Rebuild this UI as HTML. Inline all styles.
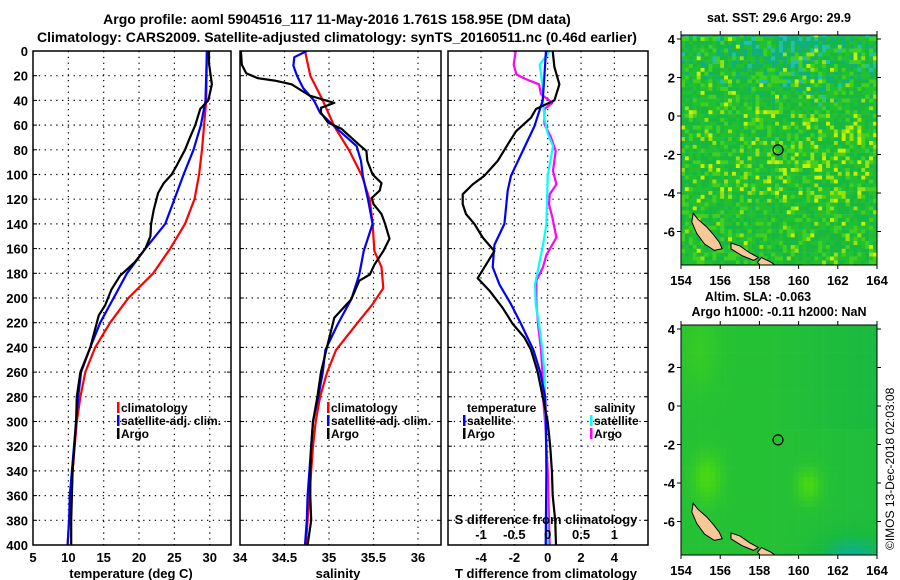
<!DOCTYPE html>
<html><head><meta charset="utf-8">
<style>
html,body{margin:0;padding:0;background:#fff;}
svg{display:block;font-family:"Liberation Sans",Arial,sans-serif;font-weight:bold;}
</style></head>
<body>
<svg id="fig" width="900" height="580" viewBox="0 0 900 580" xmlns="http://www.w3.org/2000/svg">
<rect width="900" height="580" fill="#fff"/>
<text x="337" y="24" font-size="14" text-anchor="middle">Argo profile: aoml 5904516_117 11-May-2016 1.761S 158.95E (DM data)</text>
<text x="337" y="42" font-size="14" text-anchor="middle">Climatology: CARS2009. Satellite-adjusted climatology: synTS_20160511.nc (0.46d earlier)</text>
<g id="p1"></g>
<g id="p2"></g>
<g id="p3"></g>
<g id="m1"></g>
<g id="m2"></g>
<text x="779" y="22" font-size="12.5" text-anchor="middle">sat. SST: 29.6 Argo: 29.9</text>
<text x="758" y="301" font-size="12.5" text-anchor="middle">Altim. SLA: -0.063</text>
<text x="779" y="316" font-size="12.5" text-anchor="middle">Argo h1000: -0.11 h2000: NaN</text>
<text transform="translate(894,550) rotate(-90)" font-size="12" font-weight="normal">©IMOS 13-Dec-2018 02:03:08</text>
</svg>
<script>
// ---- Temperature panel data ----
const tClimDepth = [0,40,80,100,120,140,160,180,200,220,240,260,280,300,320,340,360,380,400];
const tClimVal   = [29.6,29.5,28.9,28.5,27.85,26.5,24.4,22.0,18.5,15.9,13.8,12.4,11.7,11.2,10.9,10.6,10.3,10.1,9.9];
const tSatDepth  = [0,40,60,80,100,120,140,160,180,200,220,240,260,280,300,320,340,360,380,400];
const tSatVal    = [29.6,29.4,28.75,27.7,26.3,25.0,23.7,20.9,18.3,16.4,14.5,13.1,11.8,11.4,11.1,10.8,10.5,10.2,10.1,9.9];
const tArgoDepth = [0,10,27,40,47,60,70,80,93,100,107,115,128,140,150,160,171,182,193,206,214,225,240,260,280,300,340,360,380,400];
const tArgoVal   = [29.9,29.9,30.3,29.8,28.65,27.95,27.2,26.5,25.3,24.6,23.5,22.7,22.1,21.7,21.6,20.9,19.4,17.3,16.1,15.2,14.3,13.8,13.1,11.7,11.2,11.1,10.6,10.5,10.4,10.4];
const tTicks = [5,10,15,20,25,30];
const depthTicks = [0,20,40,60,80,100,120,140,160,180,200,220,240,260,280,300,320,340,360,380,400];
// ---- Salinity panel data ----
const sClimDepth = [0,20,40,61,81,101,121,140,162,175,192,205,221,242,260,280,300,320,340,360,380,400];
const sClimVal   = [34.73,34.79,34.93,35.06,35.23,35.37,35.46,35.49,35.51,35.59,35.61,35.49,35.31,35.08,34.98,34.90,34.85,34.82,34.80,34.78,34.76,34.74];
const sSatDepth  = [0,5,12,20,30,40,50,61,77,89,101,121,140,162,181,201,221,242,260,280,300,320,340,360,380,400];
const sSatVal    = [34.75,34.61,34.60,34.64,34.71,34.83,34.90,35.06,35.31,35.36,35.38,35.44,35.49,35.39,35.34,35.25,35.10,34.96,34.93,34.88,34.82,34.80,34.78,34.76,34.75,34.73];
const sArgoDepth = [0,11,18,22,24,27,32,36,42,46,50,58,63,76,81,89,100,107,113,119,124,132,140,152,162,173,181,186,201,216,242,260,280,300,320,340,360,380,400];
const sArgoVal   = [34.01,34.02,34.07,34.20,34.39,34.58,34.69,34.78,35.06,34.91,34.91,34.99,35.14,35.34,35.42,35.43,35.49,35.59,35.57,35.48,35.50,35.59,35.63,35.68,35.61,35.51,35.46,35.34,35.25,35.06,34.97,34.91,34.87,34.82,34.80,34.79,34.79,34.80,34.76];
const sTicks = [34,34.5,35,35.5,36];
const sTickLabels = ["34","34.5","35","35.5","36"];
// ---- Difference panel data ----
const dtArgoDepth = [0,13,27,40,47,54,65,78,89,101,108,116,124,132,140,151,162,173,184,194,208,221,232,242,260,280,300,320,340,360,380,400];
const dtArgoVal   = [0.3,0.4,0.7,0.4,-0.7,-1.0,-1.9,-2.5,-3.0,-3.8,-4.5,-5.1,-5.1,-4.9,-4.4,-3.9,-3.2,-3.7,-4.2,-3.5,-2.7,-2.1,-1.4,-1.0,-0.6,-0.3,0.0,0.15,0.25,0.3,0.45,0.5];
const dtSatDepth  = [0,20,40,61,81,101,113,140,157,175,189,205,221,242,260,280,300,340,400];
const dtSatVal    = [-0.1,-0.2,-0.3,-0.8,-1.5,-2.2,-2.4,-2.6,-3.2,-3.3,-2.9,-2.2,-1.6,-0.86,-0.45,-0.15,-0.1,-0.08,-0.12];
const dsSatDepth  = [0,11,27,40,54,67,77,89,101,121,140,157,173,189,205,221,242,260,300,340,400];
const dsSatVal    = [0.03,-0.12,-0.08,-0.07,-0.05,0,0.08,0.04,0,-0.01,-0.02,-0.07,-0.13,-0.19,-0.18,-0.13,-0.08,-0.05,-0.03,-0.02,0.0];
const dsArgoDepth = [0,11,19,23,27,35,42,47,59,70,81,97,108,116,124,135,151,165,175,186,205,224,242,260,280,300,320,340,360,380,400];
const dsArgoVal   = [-0.48,-0.51,-0.47,-0.32,-0.13,-0.10,0.07,-0.05,-0.05,0.05,0.12,0.08,0.13,0.03,0.02,0.07,0.13,-0.02,-0.07,-0.17,-0.17,-0.14,-0.10,-0.08,-0.07,-0.04,-0.02,0.0,0.01,0.02,0.03];
const dtTicks = [-4,-2,0,2,4];
const dsTicks = [-1,-0.5,0,0.5,1];
const dsTickLabels = ["-1","-0.5","0","0.5","1"];
// ---- Map data ----
const lonTicks = [154,156,158,160,162,164];
const latTicks = [4,2,0,-2,-4,-6];
const floatLon = [158.95];
const floatLat = [-1.761];

const NS = "http://www.w3.org/2000/svg";
function mk(parent, tag, attrs){const e=document.createElementNS(NS,tag);for(const k in attrs)e.setAttribute(k,attrs[k]);parent.appendChild(e);return e;}
const yD = d => 51 + d*1.235;
const PT = {x0:33,x1:231}, PS={x0:240,x1:441}, PD={x0:448,x1:648};
const Y0=51, Y1=545;

function frame(g, P, name){
  const r = mk(g,'rect',{x:P.x0,y:Y0,width:P.x1-P.x0,height:Y1-Y0,fill:'none',stroke:'#000','stroke-width':1.5});
  
  
}
function hgrid(g,P){
  depthTicks.forEach(d=>{
    if(d>0&&d<400){const l=mk(g,'line',{x1:P.x0,x2:P.x1,y1:yD(d),y2:yD(d),stroke:'#000','stroke-width':1.2,'stroke-dasharray':'1.3,4.5'});
    
    }
    const t1=mk(g,'line',{x1:P.x0,x2:P.x0+4,y1:yD(d),y2:yD(d),stroke:'#000'});
    
    
    const t2=mk(g,'line',{x1:P.x1-4,x2:P.x1,y1:yD(d),y2:yD(d),stroke:'#000'});
    
    
  });
}
function vgrid(g,P,vals,xf){
  vals.forEach(v=>{const x=xf(v); if(x>P.x0+1&&x<P.x1-1){
    const l=mk(g,'line',{x1:x,x2:x,y1:Y0,y2:Y1,stroke:'#000','stroke-width':1.2,'stroke-dasharray':'1.3,4.5'});
    
    }});
}
function line(g,depths,vals,xf,color,name,clip){
  const pts = depths.map((d,i)=>xf(vals[i]).toFixed(1)+','+yD(d).toFixed(1)).join(' ');
  const p = mk(g,'polyline',{points:pts,fill:'none',stroke:color,'stroke-width':2.2,'stroke-linejoin':'round','clip-path':'url(#'+clip+')'});
  
  
}
function txt(g,x,y,s,opts,name){
  const t=mk(g,'text',Object.assign({x:x,y:y,'font-size':13},opts||{}));t.textContent=s;
  
  
  return t;
}
function legend(g,x,y,color,label,name){
  const b=mk(g,'rect',{x:x,y:y-10,width:2.5,height:11,fill:color});
  
  
  txt(g,x+4,y,label,{'font-size':12},name+'-label');
}
const defs = mk(document.getElementById('fig'),'defs',{});
[['c1',PT],['c2',PS],['c3',PD]].forEach(([id,P])=>{const c=mk(defs,'clipPath',{id:id});mk(c,'rect',{x:P.x0,y:Y0,width:P.x1-P.x0,height:Y1-Y0});});

// Panel 1
(function(){
  const g=document.getElementById('p1'); const xT=t=>33+(t-5)*7.07;
  hgrid(g,PT); vgrid(g,PT,tTicks,xT);
  line(g,tClimDepth,tClimVal,xT,'#f00','temperature-climatology-line','c1');
  line(g,tSatDepth,tSatVal,xT,'#00f','temperature-satellite-line','c1');
  line(g,tArgoDepth,tArgoVal,xT,'#000','temperature-argo-line','c1');
  frame(g,PT,'temperature-panel');
  depthTicks.forEach(d=>txt(g,28,yD(d)+5,String(d),{'text-anchor':'end'},'depth-tick-label'));
  tTicks.forEach(t=>txt(g,xT(t),562,String(t),{'text-anchor':'middle'},'temperature-tick-label'));
  txt(g,131,578,'temperature (deg C)',{'text-anchor':'middle'},'temperature-axis-title');
  legend(g,117,412,'#f00','climatology','legend-climatology');
  legend(g,117,425,'#00f','satellite-adj. clim.','legend-satellite');
  legend(g,117,438,'#000','Argo','legend-argo');
})();
// Panel 2
(function(){
  const g=document.getElementById('p2'); const xS=s=>240+(s-34)*89;
  hgrid(g,PS); vgrid(g,PS,sTicks,xS);
  line(g,sClimDepth,sClimVal,xS,'#f00','salinity-climatology-line','c2');
  line(g,sSatDepth,sSatVal,xS,'#00f','salinity-satellite-line','c2');
  line(g,sArgoDepth,sArgoVal,xS,'#000','salinity-argo-line','c2');
  frame(g,PS,'salinity-panel');
  sTicks.forEach((s,i)=>txt(g,xS(s),562,sTickLabels[i],{'text-anchor':'middle'},'salinity-tick-label'));
  txt(g,338,578,'salinity',{'text-anchor':'middle'},'salinity-axis-title');
  legend(g,327,412,'#f00','climatology','legend-climatology');
  legend(g,327,425,'#00f','satellite-adj. clim.','legend-satellite');
  legend(g,327,438,'#000','Argo','legend-argo');
})();
// Panel 3
(function(){
  const g=document.getElementById('p3'); const xT=t=>547.7+t*16.67; const xS=s=>547.7+s*66.67;
  hgrid(g,PD); vgrid(g,PD,dtTicks,xT);
  line(g,dsArgoDepth,dsArgoVal,xS,'#f0f','salinity-diff-argo-line','c3');
  line(g,dsSatDepth,dsSatVal,xS,'#0ff','salinity-diff-satellite-line','c3');
  line(g,dtSatDepth,dtSatVal,xT,'#00f','temperature-diff-satellite-line','c3');
  line(g,dtArgoDepth,dtArgoVal,xT,'#000','temperature-diff-argo-line','c3');
  frame(g,PD,'difference-panel');
  dtTicks.forEach(t=>txt(g,xT(t),562,String(t),{'text-anchor':'middle'},'t-diff-tick-label'));
  txt(g,546,578,'T difference from climatology',{'text-anchor':'middle'},'t-diff-axis-title');
  dsTicks.forEach((s,i)=>txt(g,xS(s),539,dsTickLabels[i],{'text-anchor':'middle'},'s-diff-tick-label'));
  txt(g,546,524,'S difference from climatology',{'text-anchor':'middle'},'s-diff-axis-title');
  txt(g,467,412,'temperature',{'font-size':12},'legend-temperature-heading');
  legend(g,463,425,'#00f','satellite','legend-t-satellite');
  legend(g,463,438,'#000','Argo','legend-t-argo');
  txt(g,594,412,'salinity',{'font-size':12},'legend-salinity-heading');
  legend(g,590,425,'#0ff','satellite','legend-s-satellite');
  legend(g,590,438,'#f0f','Argo','legend-s-argo');
})();

// Maps
function hash(i,j,s){let h=(i*374761393+j*668265263+s*2147483647)|0;h=(h^(h>>>13))*1274126177|0;h=h^(h>>>16);return ((h>>>0)%10000)/10000;}
const lands=[
 [[154.62,-5.05],[154.85,-5.35],[155.3,-5.75],[155.65,-6.15],[155.95,-6.55],[156.1,-6.9],[155.7,-6.98],[155.2,-6.65],[154.8,-6.1],[154.55,-5.5]],
 [[156.55,-6.6],[157.0,-6.75],[157.5,-7.1],[157.95,-7.35],[157.7,-7.5],[157.1,-7.25],[156.55,-6.9]],
 [[158.1,-7.35],[158.6,-7.6],[159.0,-7.9],[158.2,-7.9],[157.9,-7.6]],
 [[156.6,-7.8],[156.9,-7.8],[156.8,-7.95],[156.6,-7.95]]
];
function drawMap(id,top,bot,ax){
  const g=document.getElementById(id);
  const X0=681,X1=877;
  const lx=l=>X0+(l-154)*19.6;
  const ly=a=>top+4+(4-a)*19.25;
  const latMin=4-(bot-top-4)/19.25;
  const cid='clip'+id; const c=mk(defs,'clipPath',{id:cid}); mk(c,'rect',{x:X0,y:top,width:X1-X0,height:bot-top});
  const cells=mk(g,'g',{'clip-path':'url(#'+cid+')'});
  
  
  if(id==='m1'){
    const st=0.2;
    for(let lo=154;lo<164;lo+=st){for(let la=4.3;la>latMin-0.2;la-=st){
      const i=Math.round(lo/st),j=Math.round(la/st);const r=hash(i,j,1);
      let teal = Math.max(0,(la-0.5)/4)*(1-Math.abs(lo-159.5)/6);
      let yel = 0.05 + (la<0.5&&la>-4.5?0.08:0) + (lo>159&&la<0?0.04:0);
      let col;
      if(r<teal*0.8) col = hash(i,j,2)<0.3?'#20c0b0':'#10b078';
      else if(r>1-yel) col = hash(i,j,3)<0.4?'#c8f000':'#98e010';
      else { const q=hash(i,j,4); col = q<0.4?'#18b840':(q<0.8?'#20c030':'#40d020'); }
      mk(cells,'rect',{x:lx(lo).toFixed(1),y:ly(la).toFixed(1),width:4.2,height:4.1,fill:col});
    }}
  } else {
    const st=0.25;
    for(let lo=154;lo<164;lo+=st){for(let la=4.3;la>latMin-0.3;la-=st){
      let v = 0.45 + 0.6*Math.exp(-((lo-155.2)**2/0.5+(la+3.6)**2/1.5)) + 0.6*Math.exp(-((lo-160.4)**2/0.4+(la+4)**2/0.8))
              +0.25*Math.exp(-((lo-154.8)**2/1+(la-3)**2/4)) - 0.35*Math.exp(-((lo-162.5)**2/3+(la+7.8)**2/1.5)) - 0.2*Math.max(0,(lo-158)/6)*(la>-1?1:0.5);
      v=Math.max(0,Math.min(1,v));
      const rr=Math.round(10+v*60), gg=Math.round(175+v*40), bb=Math.round(80-v*60+ (v<0.25?(0.25-v)*300:0));
      mk(cells,'rect',{x:lx(lo).toFixed(1),y:ly(la).toFixed(1),width:5.2,height:5.1,fill:'rgb('+rr+','+gg+','+bb+')'});
    }}
  }
  lands.forEach(L=>{const p=mk(cells,'polygon',{points:L.map(q=>lx(q[0]).toFixed(1)+','+ly(q[1]).toFixed(1)).join(' '),fill:'#f8c898',stroke:'#000','stroke-width':1});
    
    });
  const fr=mk(g,'rect',{x:X0,y:top,width:X1-X0,height:bot-top,fill:'none',stroke:'#000'});
  
  
  floatLon.forEach((lo,i)=>{const ci=mk(g,'circle',{cx:lx(lo),cy:ly(floatLat[i]),r:5,fill:'none',stroke:'#000','stroke-width':1.2});
    
    });
  latTicks.forEach(a=>{const y=ly(a);
    mk(g,'line',{x1:X0-4,x2:X0,y1:y,y2:y,stroke:'#000'});mk(g,'line',{x1:X1,x2:X1+4,y1:y,y2:y,stroke:'#000'});
    txt(g,X0-6,y+5,String(a),{'text-anchor':'end'},'latitude-tick-label');});
  lonTicks.forEach(l=>{const x=lx(l);
    mk(g,'line',{x1:x,x2:x,y1:bot,y2:bot+4,stroke:'#000'});mk(g,'line',{x1:x,x2:x,y1:top-4,y2:top,stroke:'#000'});
    txt(g,x,ax,String(l),{'text-anchor':'middle'},'longitude-tick-label');});
}
drawMap('m1',35,265,285);
drawMap('m2',325,555,575);
</script>
</body></html>
